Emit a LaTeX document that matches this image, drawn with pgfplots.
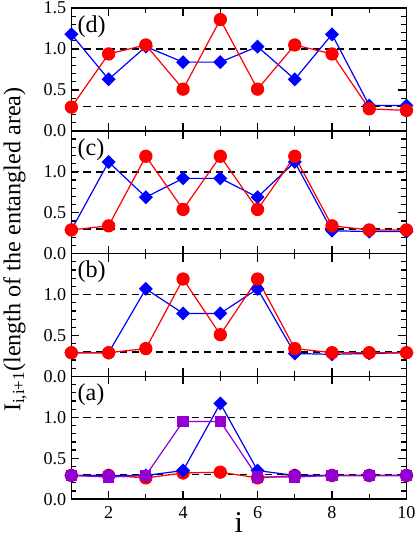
\documentclass[border=0pt]{standalone}
\usepackage{fontspec}
\setmainfont{Liberation Serif}
\usepackage{pgfplots}
\pgfplotsset{compat=1.18}
\usepgfplotslibrary{groupplots}
\definecolor{dviolet}{RGB}{148,0,211}
\begin{document}
\begin{tikzpicture}
\pgfplotsset{
  redc/.style={red, line width=1.2pt, mark=*, mark size=6pt, mark options={solid}},
  blued/.style={blue, line width=1.2pt, mark=square*, mark size=4.3pt, mark options={solid, rotate=45}},
  purps/.style={dviolet, line width=1.2pt, mark=square*, mark size=5pt, mark options={solid}},
  refline/.style={black, line width=1.5pt, dash pattern=on 7pt off 5pt, mark=none},
}
\begin{groupplot}[
  group style={group size=1 by 4, vertical sep=0pt, xticklabels at=edge bottom},
  scale only axis, width=333pt, height=122pt,
  xmin=1, xmax=10, ymin=0, ymax=1.5,
  xtick={2,4,6,8,10}, xticklabels={2,4,6,8,10},
  minor xtick={1,3,5,7,9},
  ytick={0,0.5,1}, yticklabels={0.0,0.5,1.0},
  minor ytick={0.1,0.2,0.3,0.4,0.6,0.7,0.8,0.9,1.1,1.2,1.3,1.4},
  tick label style={font=\fontsize{18}{18}\selectfont, inner sep=2pt},
  yticklabel style={xshift=-3pt},
  xticklabel style={yshift=-5pt},
  axis line style={line width=1.6pt},
  major tick length=8pt, minor tick length=5pt,
  every tick/.style={line width=1.2pt, black},
  tick align=inside,
  clip=false,
]
% (d)
\nextgroupplot[ytick={0,0.5,1,1.5}, yticklabels={0.0,0.5,1.0,1.5}]
\addplot[refline] coordinates {(1,1) (10,1)};
\addplot[refline] coordinates {(1,0.3) (10,0.3)};
\addplot[blued] coordinates {(1,1.18) (2,0.63) (3,1.03) (4,0.84) (5,0.84) (6,1.03) (7,0.63) (8,1.18) (9,0.31) (10,0.31)};
\addplot[redc] coordinates {(1,0.29) (2,0.94) (3,1.05) (4,0.51) (5,1.36) (6,0.51) (7,1.05) (8,0.94) (9,0.27) (10,0.25)};
\node[anchor=north west, inner sep=0pt, font=\fontsize{24}{24}\selectfont] at (rel axis cs:0.018,0.94) {(d)};
% (c)
\nextgroupplot
\addplot[refline] coordinates {(1,1) (10,1)};
\addplot[refline] coordinates {(1,0.3) (10,0.3)};
\addplot[blued] coordinates {(1,0.29) (2,1.12) (3,0.69) (4,0.92) (5,0.92) (6,0.69) (7,1.12) (8,0.28) (9,0.27) (10,0.27)};
\addplot[redc] coordinates {(1,0.29) (2,0.34) (3,1.19) (4,0.54) (5,1.19) (6,0.54) (7,1.19) (8,0.34) (9,0.29) (10,0.29)};
\node[anchor=north west, inner sep=0pt, font=\fontsize{24}{24}\selectfont] at (rel axis cs:0.018,0.94) {(c)};
% (b)
\nextgroupplot
\addplot[refline] coordinates {(1,1) (10,1)};
\addplot[refline] coordinates {(1,0.3) (10,0.3)};
\addplot[blued] coordinates {(1,0.29) (2,0.29) (3,1.07) (4,0.77) (5,0.77) (6,1.07) (7,0.28) (8,0.27) (9,0.28) (10,0.29)};
\addplot[redc] coordinates {(1,0.29) (2,0.29) (3,0.34) (4,1.19) (5,0.51) (6,1.19) (7,0.34) (8,0.29) (9,0.29) (10,0.29)};
\node[anchor=north west, inner sep=0pt, font=\fontsize{24}{24}\selectfont] at (rel axis cs:0.018,0.94) {(b)};
% (a)
\nextgroupplot[xlabel={i}, xlabel style={font=\fontsize{30}{30}\selectfont, inner sep=0pt, text depth=6.5pt, at={(axis description cs:0.5,0)}, anchor=north, yshift=-13pt}]
\addplot[refline] coordinates {(1,1) (10,1)};
\addplot[refline] coordinates {(1,0.3) (10,0.3)};
\addplot[redc] coordinates {(1,0.29) (2,0.29) (3,0.26) (4,0.32) (5,0.33) (6,0.26) (7,0.29) (8,0.29) (9,0.29) (10,0.29)};
\addplot[blued] coordinates {(1,0.29) (2,0.29) (3,0.29) (4,0.35) (5,1.17) (6,0.35) (7,0.29) (8,0.29) (9,0.29) (10,0.29)};
\addplot[purps] coordinates {(1,0.29) (2,0.27) (3,0.29) (4,0.95) (5,0.95) (6,0.27) (7,0.27) (8,0.29) (9,0.29) (10,0.29)};
\addplot[dviolet, only marks, mark=*, mark size=6pt] coordinates {(1,0.29) (2,0.28) (7,0.28) (8,0.29) (9,0.29) (10,0.29)};
\node[anchor=north west, inner sep=0pt, font=\fontsize{24}{24}\selectfont] at (rel axis cs:0.018,0.94) {(a)};
\end{groupplot}
\node[rotate=90, anchor=center, font=\fontsize{24}{24}\selectfont] at ([xshift=-56pt, yshift=4pt]group c1r2.south west) {I\textsubscript{i,i+1}(length of the entangled area)};
\end{tikzpicture}
\end{document}
